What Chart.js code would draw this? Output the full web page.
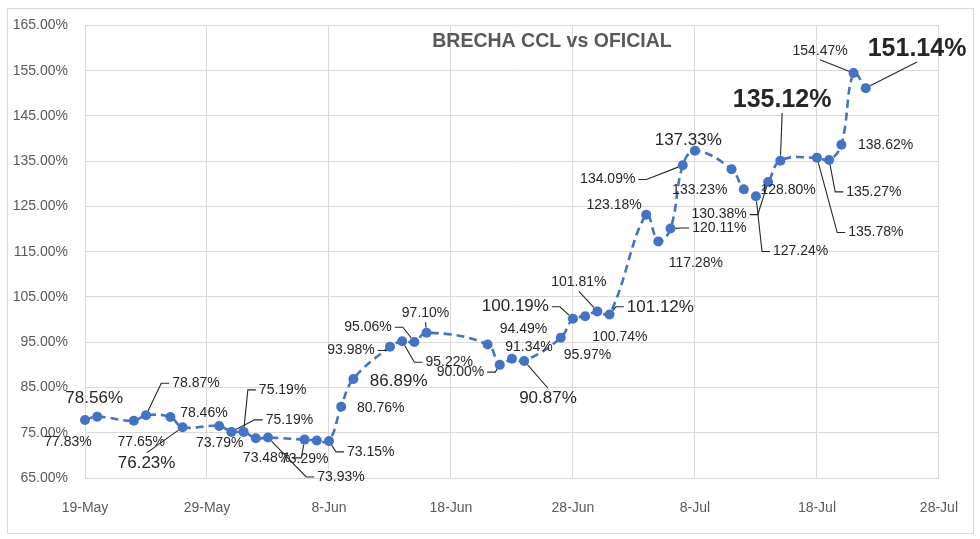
<!DOCTYPE html>
<html>
<head>
<meta charset="utf-8">
<script src="https://cdn.jsdelivr.net/npm/chart.js@4/dist/chart.umd.min.js"></script>
<style>
  body { margin: 0; background: #ffffff; }
  #wrap { width: 980px; height: 539px; }
</style>
</head>
<body>
<div id="wrap"><canvas id="brecha" width="980" height="539"></canvas></div>
<script>
// datos ====================================
const dates = [
  "2022-05-19", "2022-05-20", "2022-05-23", "2022-05-24", "2022-05-26", "2022-05-27",
  "2022-05-30", "2022-05-31", "2022-06-01", "2022-06-02", "2022-06-03", "2022-06-06",
  "2022-06-07", "2022-06-08", "2022-06-09", "2022-06-10", "2022-06-13", "2022-06-14",
  "2022-06-15", "2022-06-16", "2022-06-21", "2022-06-22", "2022-06-23", "2022-06-24",
  "2022-06-27", "2022-06-28", "2022-06-29", "2022-06-30", "2022-07-01", "2022-07-04",
  "2022-07-05", "2022-07-06", "2022-07-07", "2022-07-08", "2022-07-11", "2022-07-12",
  "2022-07-13", "2022-07-14", "2022-07-15", "2022-07-18", "2022-07-19", "2022-07-20",
  "2022-07-21", "2022-07-22",
];
const brecha = [
  77.83, 78.56, 77.65, 78.87, 78.46, 76.23,
  76.5, 75.19, 75.19, 73.79, 73.93, 73.48,
  73.29, 73.15, 80.76, 86.89, 93.98, 95.22,
  95.06, 97.1, 94.49, 90.0, 91.34, 90.87,
  95.97, 100.19, 100.74, 101.81, 101.12, 123.18,
  117.28, 120.11, 134.09, 137.33, 133.23, 128.8,
  127.24, 130.38, 135.12, 135.78, 135.27, 138.62,
  154.47, 151.14,
];
const xTickLabels = ["19-May", "29-May", "8-Jun", "18-Jun", "28-Jun", "8-Jul", "18-Jul", "28-Jul"];
const titleText = "BRECHA CCL vs OFICIAL";

// ubicacion de etiquetas: [dx, dy, tamaño, linea guia]  (s chico, m mediano, b negrita)
const labelLayout = [
  [-17, 22, "s", 0], [-3, -18.5, "m", 0], [7.5, 21.3, "s", 0], [50, -32, "s", 1],
  [33.5, -4, "s", 0], [-36, 36, "m", 1], null, [58, -12, "s", 1],
  [39, -42, "s", 1], [-36, 4.7, "s", 0], [73, 39.4, "s", 1], [-38, 18.3, "s", 1],
  [-12, 18.5, "s", 0], [41.7, 10.8, "s", 1], [39.5, 1.5, "s", 0], [45.3, 2.4, "m", 0],
  [-39, 3.7, "s", 1], [47, 21, "s", 1], [-46.3, -14.7, "s", 1], [-1, -19.4, "s", 1],
  [36, -15.6, "s", 0], [-39.3, 7.3, "s", 1], [17, -11.6, "s", 0], [23.8, 37.6, "m", 1],
  [26.7, 17.8, "s", 0], [-57.6, -12, "m", 1], [34.7, 21.2, "s", 0], [-18.5, -28.9, "s", 1],
  [50.8, -7.7, "m", 1], [-32, -10, "s", 0], [37.4, 21.6, "s", 0], [48.7, -0.5, "s", 1],
  [-75, 14.2, "s", 1], [-6.7, -10.5, "m", 0], [-31.8, 20.8, "s", 0], [44.4, 0.6, "s", 0],
  [44.7, 55.2, "s", 1], [-49, 32.5, "s", 1], [1.8, -60.5, "b", 1], [58.9, 74.9, "s", 1],
  [44.7, 31.9, "s", 1], [44.2, 0.4, "s", 0], [-33.5, -22.3, "s", 1], [51.3, -39.1, "b", 1],
];

const FAMILY = "'Liberation Sans', Arial, sans-serif";
const labelFonts = {
  s: { font: "14px " + FAMILY, h: 10 },
  m: { font: "17px " + FAMILY, h: 12.5 },
  b: { font: "bold 25px " + FAMILY, h: 18 },
};

// dias desde el 19-May
const baseDay = Date.parse(dates[0]);
const points = dates.map((d, i) => ({ x: (Date.parse(d) - baseDay) / 86400000, y: brecha[i] }));

// linea guia estilo excel
function drawLeader(ctx, px, py, cx, cy, w, h) {
  let sx, sy, r = 5;
  ctx.beginPath();
  if (Math.abs(px - cx) > w / 2 + 10) {
    const side = px > cx ? 1 : -1;
    sx = cx + side * (w / 2 + 3);
    sy = cy;
    ctx.moveTo(sx, sy);
    sx += side * 8;
    ctx.lineTo(sx, sy);
  } else {
    const side = py > cy ? 1 : -1;
    sx = cx;
    sy = cy + side * (h / 2 + 4);
    ctx.moveTo(sx, sy);
  }
  const len = Math.hypot(px - sx, py - sy);
  if (len > r) {
    ctx.lineTo(px - (px - sx) * r / len, py - (py - sy) * r / len);
  }
  ctx.stroke();
}

const labelPlugin = {
  id: "etiquetas",
  beforeDraw(chart) {
    const ctx = chart.ctx;
    ctx.save();
    ctx.fillStyle = "#ffffff";
    ctx.fillRect(0, 0, chart.width, chart.height);
    ctx.strokeStyle = "#d9d9d9";
    ctx.lineWidth = 1;
    ctx.strokeRect(7.5, 8.5, 966, 525);
    ctx.restore();
  },
  afterDatasetsDraw(chart) {
    const ctx = chart.ctx;
    const meta = chart.getDatasetMeta(0);
    ctx.save();
    // titulo
    ctx.font = "bold 19.5px " + FAMILY;
    ctx.fillStyle = "#595959";
    ctx.textAlign = "center";
    ctx.textBaseline = "middle";
    ctx.fillText(titleText, 552, 42);

    ctx.strokeStyle = "#262626";
    ctx.lineWidth = 1.1;
    meta.data.forEach((pt, i) => {
      const lay = labelLayout[i];
      if (!lay) return;
      const f = labelFonts[lay[2]];
      const text = brecha[i].toFixed(2) + "%";
      ctx.font = f.font;
      const w = ctx.measureText(text).width;
      const cx = pt.x + lay[0];
      const cy = pt.y + lay[1];
      if (lay[3]) drawLeader(ctx, pt.x, pt.y, cx, cy, w, f.h);
      ctx.fillStyle = "#262626";
      ctx.fillText(text, cx, cy);
    });
    ctx.restore();
  },
};

const grisGrid = "#d9d9d9";
const tickFont = { size: 14, family: FAMILY };

new Chart(document.getElementById("brecha"), {
  type: "line",
  data: {
    datasets: [
      {
        label: titleText,
        data: points,
        borderColor: "#4472C4",
        borderWidth: 2.6,
        borderDash: [8, 5],
        tension: 0.4,
        pointRadius: 5,
        pointBorderWidth: 0,
        pointBackgroundColor: "#4472C4",
        fill: false,
        clip: false,
      },
    ],
  },
  options: {
    responsive: false,
    animation: false,
    devicePixelRatio: 1,
    layout: { padding: { top: 22, right: 40, left: 0, bottom: 0 } },
    plugins: {
      legend: { display: false },
      tooltip: { enabled: false },
    },
    scales: {
      x: {
        type: "linear",
        min: 0,
        max: 70,
        afterFit(scale) {
          scale.height = 61;
        },
        ticks: {
          stepSize: 10,
          padding: 22,
          color: "#595959",
          font: tickFont,
          maxRotation: 0,
          callback: (v, i) => xTickLabels[i],
        },
        grid: { color: grisGrid, drawTicks: false },
        border: { color: grisGrid },
      },
      y: {
        min: 65,
        max: 165,
        afterFit(scale) {
          scale.width = 85;
        },
        ticks: {
          stepSize: 10,
          padding: 17,
          color: "#595959",
          font: tickFont,
          callback: (v) => v.toFixed(2) + "%",
        },
        grid: { color: grisGrid, drawTicks: false },
        border: { color: grisGrid },
      },
    },
  },
  plugins: [labelPlugin],
});
</script>
</body>
</html>
